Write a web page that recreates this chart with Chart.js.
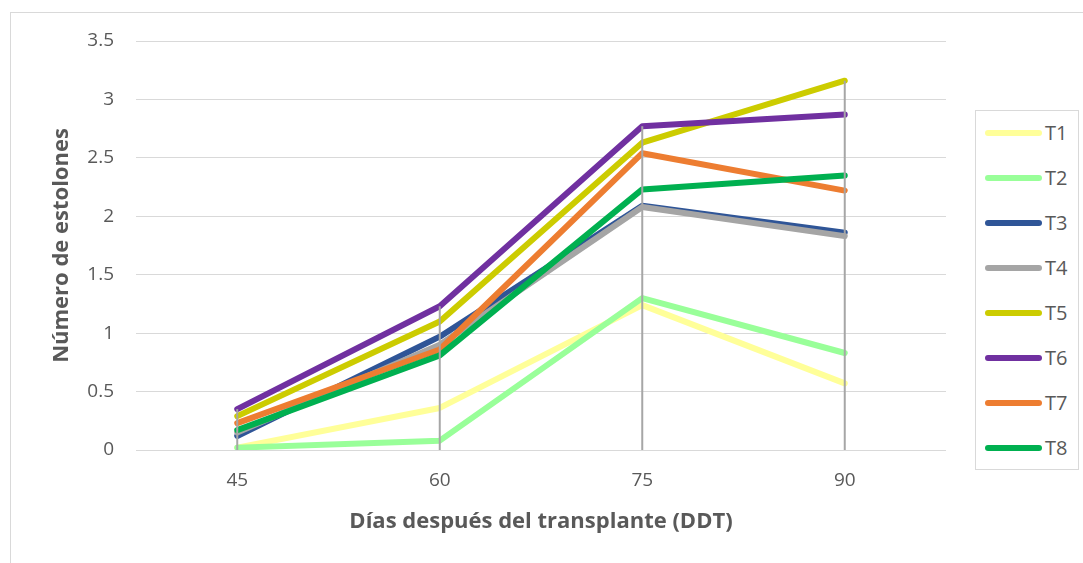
<!DOCTYPE html>
<html>
<head>
<meta charset="utf-8">
<script src="https://cdn.jsdelivr.net/npm/chart.js@4.4.1/dist/chart.umd.min.js"></script>
<style>
  html, body { margin: 0; padding: 0; background: #fff; }
  #wrap { position: relative; width: 1083px; height: 563px; overflow: hidden; }
  #frame { position: absolute; left: 10px; top: 12px; width: 1200px; height: 700px; border: 1px solid #d9d9d9; }
  #chart { position: absolute; left: 0; top: 0; }
  #legend { position: absolute; left: 975px; top: 110px; width: 102px; height: 358px; border: 1px solid #d9d9d9; background: #fff; }
  .item { position: absolute; left: 9px; height: 20px; font-family: 'Open Sans', sans-serif; font-size: 20px; color: #595959; line-height: 20px; }
  .item span.sw { position: absolute; left: 0; top: 7px; width: 57px; height: 6px; border-radius: 3px; }
  .item span.tx { position: absolute; left: 60px; top: 0; }
</style>
</head>
<body>
<div id="wrap">
  <div id="frame"></div>
  <canvas id="chart" width="1083" height="563"></canvas>
  <div id="legend"></div>
</div>
<script>
  // 데이터
  var labels = ['45', '60', '75', '90'];
  var names = ['T1', 'T2', 'T3', 'T4', 'T5', 'T6', 'T7', 'T8'];
  var T1 = [0.02, 0.36, 1.24, 0.57];
  var T2 = [0.02, 0.08, 1.30, 0.83];
  var T3 = [0.12, 0.97, 2.09, 1.86];
  var T4 = [0.15, 0.90, 2.08, 1.83];
  var T5 = [0.29, 1.10, 2.63, 3.16];
  var T6 = [0.35, 1.23, 2.77, 2.87];
  var T7 = [0.23, 0.86, 2.54, 2.22];
  var T8 = [0.17, 0.81, 2.23, 2.35];
  var series = [T1, T2, T3, T4, T5, T6, T7, T8];
  var colors = ['#FFFF99', '#99FF99', '#2F5597', '#A5A5A5', '#CCCC00', '#7030A0', '#ED7D31', '#00B050'];

  var FONT = "'Open Sans', sans-serif";
  var TXT = '#595959';

  // 수직 드롭 라인 (최대값 → 0)
  var dropLines = {
    id: 'dropLines',
    afterDatasetsDraw: function (chart) {
      var ctx = chart.ctx;
      var xs = chart.scales.x, ys = chart.scales.y;
      ctx.save();
      ctx.strokeStyle = '#A6A6A6';
      ctx.lineWidth = 2;
      labels.forEach(function (l, i) {
        var max = Math.max.apply(null, series.map(function (s) { return s[i]; }));
        var x = xs.getPixelForValue(i);
        ctx.beginPath();
        ctx.moveTo(x, ys.getPixelForValue(max));
        ctx.lineTo(x, ys.getPixelForValue(0));
        ctx.stroke();
      });
      ctx.restore();
    }
  };

  new Chart(document.getElementById('chart'), {
    type: 'line',
    data: {
      labels: labels,
      datasets: series.map(function (s, i) {
        return {
          label: names[i],
          data: s,
          borderColor: colors[i],
          backgroundColor: colors[i],
          borderWidth: 6,
          borderCapStyle: 'round',
          borderJoinStyle: 'round',
          pointRadius: 0,
          tension: 0,
          order: 8 - i
        };
      })
    },
    options: {
      responsive: false,
      animation: false,
      layout: { padding: { left: 0, right: 137, top: 41, bottom: 0 } },
      plugins: { legend: { display: false }, tooltip: { enabled: false } },
      scales: {
        x: {
          offset: true,
          grid: { display: false, drawTicks: false },
          border: { display: false },
          ticks: { color: TXT, font: { family: FONT, size: 19 }, padding: 19 },
          title: { display: true, text: 'Días después del transplante (DDT)', color: TXT,
                   font: { family: FONT, size: 22, weight: 'bold' }, padding: { top: 0, bottom: 28 } },
          afterFit: function (s) { s.height = 113; }
        },
        y: {
          min: 0, max: 3.5,
          ticks: { stepSize: 0.5, color: TXT, font: { family: FONT, size: 19 }, padding: 22,
                   callback: function (v) { return String(Number(v)); } },
          grid: { color: '#D9D9D9', lineWidth: 1, drawTicks: false },
          border: { display: false },
          title: { display: true, text: 'Número de estolones', color: TXT,
                   font: { family: FONT, size: 22, weight: 'bold' }, padding: { top: 49, bottom: 0 } },
          afterFit: function (s) { s.width = 136; }
        }
      }
    },
    plugins: [dropLines]
  });

  // HTML 범례
  var legend = document.getElementById('legend');
  names.forEach(function (n, i) {
    var d = document.createElement('div');
    d.className = 'item';
    d.style.top = (22 + i * 45 - 10) + 'px';
    d.innerHTML = '<span class="sw" style="background:' + colors[i] + '"></span><span class="tx">' + n + '</span>';
    legend.appendChild(d);
  });
</script>
</body>
</html>
